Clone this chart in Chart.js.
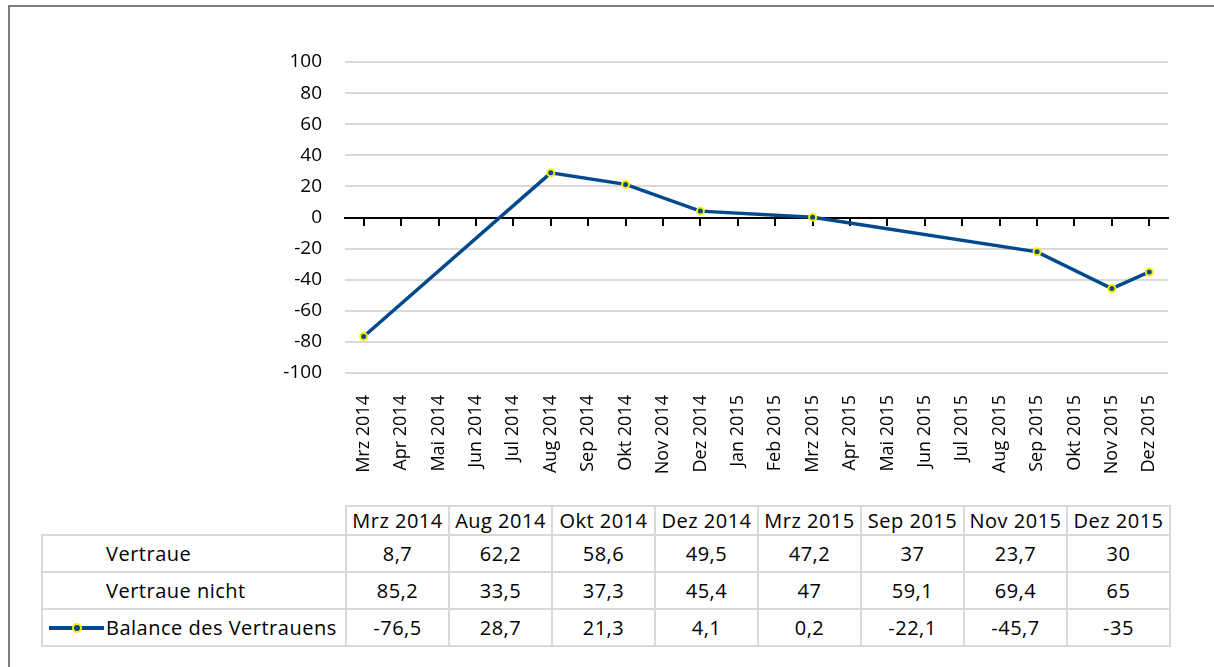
<!DOCTYPE html>
<html>
<head>
<meta charset="utf-8">
<script src="https://cdn.jsdelivr.net/npm/chart.js@4/dist/chart.umd.min.js"></script>
<style>
  html, body { margin: 0; padding: 0; background: #fff; }
  body { width: 1214px; height: 667px; position: relative; overflow: hidden; font-family: "Open Sans", sans-serif; }
  #frame { position: absolute; left: 8px; top: 5px; right: -10px; bottom: -10px; border-left: 2px solid #7f7f7f; border-top: 2px solid #7f7f7f; }
  #chartBox { position: absolute; left: 0; top: 0; width: 1214px; height: 505px; }
  #dataTable { position: absolute; left: 41px; top: 505px; width: 1128px; border-collapse: collapse; table-layout: fixed; font-size: 20px; letter-spacing: 0.5px; color: #000; }
  #dataTable td { border: 2px solid #d9d9d9; text-align: center; padding: 0; white-space: nowrap; }
  #dataTable tr.head td { height: 25px; }
  #dataTable tr.body td { height: 35px; }
  #dataTable td.corner { border-top: hidden; border-left: hidden; }
  #dataTable td.name { text-align: left; padding-left: 63px; position: relative; }
  .legLine { position: absolute; left: 6px; top: 50%; width: 55px; height: 4px; margin-top: -2px; background: #004a8c; }
  .legDot { position: absolute; left: 29px; top: 50%; width: 6px; height: 6px; margin-top: -5px; border-radius: 50%; background: #004a8c; border: 2px solid #ffed00; }
</style>
</head>
<body>
<div id="frame"></div>
<div id="chartBox"><canvas id="chart" width="1214" height="505"></canvas></div>
<table id="dataTable"></table>
<script>
const months = [
  "Mrz 2014", "Apr 2014", "Mai 2014", "Jun 2014", "Jul 2014", "Aug 2014",
  "Sep 2014", "Okt 2014", "Nov 2014", "Dez 2014", "Jan 2015", "Feb 2015",
  "Mrz 2015", "Apr 2015", "Mai 2015", "Jun 2015", "Jul 2015", "Aug 2015",
  "Sep 2015", "Okt 2015", "Nov 2015", "Dez 2015"
];
const surveyMonths = ["Mrz 2014", "Aug 2014", "Okt 2014", "Dez 2014", "Mrz 2015", "Sep 2015", "Nov 2015", "Dez 2015"];
const vertraue = [8.7, 62.2, 58.6, 49.5, 47.2, 37, 23.7, 30];
const vertraueNicht = [85.2, 33.5, 37.3, 45.4, 47, 59.1, 69.4, 65];
const balance = [-76.5, 28.7, 21.3, 4.1, 0.2, -22.1, -45.7, -35];
const yTicks = [-100, -80, -60, -40, -20, 0, 20, 40, 60, 80, 100];

const lineColor = "#004a8c";
const dotBorder = "#ffed00";
const fmt = (v) => String(v).replace(".", ",");

// table under the chart
const table = document.getElementById("dataTable");
let html = '<colgroup><col style="width:304px">';
surveyMonths.forEach(() => { html += '<col style="width:103px">'; });
html += "</colgroup>";
html += '<tr class="head"><td class="corner"></td>' + surveyMonths.map((m) => "<td>" + m + "</td>").join("") + "</tr>";
const rows = [
  ["Vertraue", vertraue, false],
  ["Vertraue nicht", vertraueNicht, false],
  ["Balance des Vertrauens", balance, true],
];
rows.forEach(([name, vals, legend]) => {
  html += '<tr class="body"><td class="name">';
  if (legend) html += '<span class="legLine"></span><span class="legDot"></span>';
  html += name + "</td>" + vals.map((v) => "<td>" + fmt(v) + "</td>").join("") + "</tr>";
});
table.innerHTML = html;

const font = { family: "'Open Sans', sans-serif", size: 19 };

new Chart(document.getElementById("chart"), {
  type: "line",
  data: {
    labels: months,
    datasets: [{
      label: "Balance des Vertrauens",
      data: surveyMonths.map((m, i) => ({ x: m, y: balance[i] })),
      borderColor: lineColor,
      borderWidth: 3.5,
      backgroundColor: lineColor,
      pointRadius: 3.5,
      pointBorderWidth: 2,
      pointBackgroundColor: lineColor,
      pointBorderColor: dotBorder,
      tension: 0,
      xAxisID: "x",
      yAxisID: "y",
    }],
  },
  options: {
    responsive: false,
    animation: false,
    layout: { padding: { left: 0, right: 46, top: 62, bottom: 0 } },
    plugins: { legend: { display: false }, tooltip: { enabled: false } },
    scales: {
      x: {
        type: "category",
        position: "bottom",
        offset: true,
        grid: { display: false },
        border: { display: false },
        ticks: {
          color: "#000",
          font: { family: "'Open Sans', sans-serif", size: 18 },
          minRotation: 90,
          maxRotation: 90,
          autoSkip: false,
          padding: 14,
        },
        afterFit: (s) => { s.height = 132; },
      },
      x0: {
        type: "category",
        position: { y: 0 },
        offset: true,
        grid: { drawOnChartArea: false, drawTicks: true, tickLength: 7, color: "#000", lineWidth: 2 },
        border: { display: true, color: "#000", width: 2 },
        ticks: { display: false, autoSkip: false },
      },
      y: {
        min: -100,
        max: 100,
        afterBuildTicks: (s) => { s.ticks = yTicks.map((v) => ({ value: v })); },
        grid: { color: "#d9d9d9", lineWidth: 2, drawTicks: false },
        border: { display: false },
        ticks: { color: "#000", font: font, padding: 23 },
        afterFit: (s) => { s.width = 345; },
      },
    },
  },
});
</script>
</body>
</html>
